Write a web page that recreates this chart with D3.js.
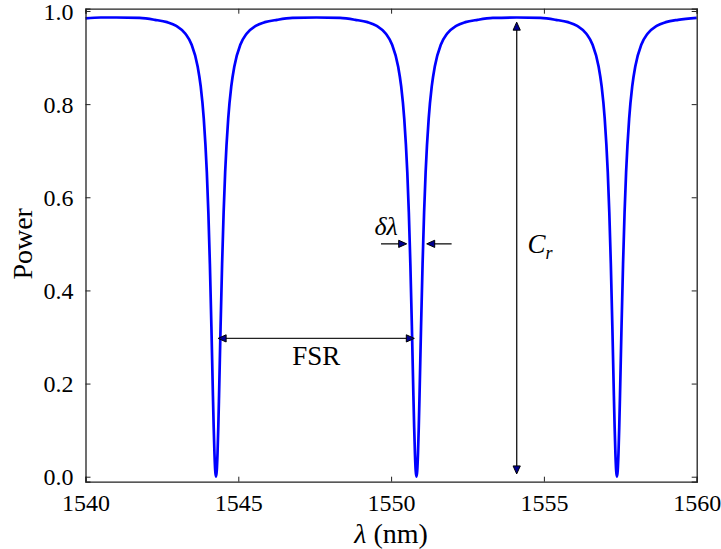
<!DOCTYPE html>
<html><head><meta charset="utf-8">
<script src="https://cdn.jsdelivr.net/npm/d3@7"></script>
<style>html,body{margin:0;padding:0;background:#fff;} svg text{font-family:"Liberation Serif","Times New Roman",Times,serif;}</style>
</head><body><svg id="c" width="721" height="549"></svg>
<script>
// Wavelength samples (nm)
const wavelength = [1540.00,1540.50,1541.00,1541.77,1542.27,1542.67,1542.97,1543.27,1543.47,1543.67,1543.77,1543.87,1543.97,1544.02,1544.07,1544.12,1544.17,1544.195,1544.22,1544.245,
1544.27,1544.295,1544.32,1544.345,1544.37,1544.42,1544.47,1544.52,1544.57,1544.67,1544.77,1544.87,1545.07,1545.27,1545.57,1545.87,1546.27,1546.77,
1547.55,1548.33,1548.83,1549.23,1549.53,1549.83,1550.03,1550.23,1550.33,1550.43,1550.53,1550.58,1550.63,1550.68,1550.73,1550.755,1550.78,1550.805,
1550.83,1550.855,1550.88,1550.905,1550.93,1550.98,1551.03,1551.08,1551.13,1551.23,1551.33,1551.43,1551.63,1551.83,1552.13,1552.43,1552.83,1553.33,
1554.11,1554.89,1555.39,1555.79,1556.09,1556.39,1556.59,1556.79,1556.89,1556.99,1557.09,1557.14,1557.19,1557.24,1557.29,1557.315,1557.34,1557.365,
1557.39,1557.415,1557.44,1557.465,1557.49,1557.54,1557.59,1557.64,1557.69,1557.79,1557.89,1557.99,1558.19,1558.39,1558.69,1558.99,1559.39,1560.00];
// Transmitted power
const power = [0.984,0.986,0.986,0.985,0.981,0.976,0.968,0.951,0.928,0.881,0.838,0.769,0.654,0.568,0.457,0.322,0.174,0.106,0.050,0.013,
0.000,0.013,0.050,0.106,0.174,0.322,0.457,0.568,0.654,0.769,0.838,0.881,0.928,0.951,0.968,0.976,0.981,0.985,
0.986,0.985,0.981,0.976,0.968,0.951,0.928,0.881,0.838,0.769,0.654,0.568,0.457,0.322,0.174,0.106,0.050,0.013,
0.000,0.013,0.050,0.106,0.174,0.322,0.457,0.568,0.654,0.769,0.838,0.881,0.928,0.951,0.968,0.976,0.981,0.985,
0.986,0.985,0.981,0.976,0.968,0.951,0.928,0.881,0.838,0.769,0.654,0.568,0.457,0.322,0.174,0.106,0.050,0.013,
0.000,0.013,0.050,0.106,0.174,0.322,0.457,0.568,0.654,0.769,0.838,0.881,0.928,0.951,0.968,0.976,0.981,0.985];
const xTicks = [1540,1545,1550,1555,1560];
const yTicks = [0.0,0.2,0.4,0.6,0.8,1.0];
const xDomain = [1540,1560];
const yDomain = [-0.0107,1.0049];
// Annotations (data coordinates)
const fsrArrow = {x1:1544.34, x2:1550.76, y:0.297, label:"FSR", lx:1547.55, ly:0.24};
const dlArrows = [{from:1549.67, to:1550.51, y:0.5},{from:1551.98, to:1551.165, y:0.5}];
const dlLabel = {x:1549.84, y:0.52};
const crArrow = {x:1554.11, y1:0.006, y2:0.976};
const crLabel = {x:1554.46, y:0.48};

const FONT = '"Liberation Serif", "Times New Roman", Times, serif';
const svg = d3.select("#c");
const m = {l:85.5, r:24.3, t:8.7, b:67.3};
const W = 721, H = 549;
const x = d3.scaleLinear().domain(xDomain).range([m.l, W-m.r]);
const y = d3.scaleLinear().domain(yDomain).range([H-m.b, m.t]);

const data = wavelength.map((d,i)=>[d,power[i]]);
const line = d3.line().x(d=>x(d[0])).y(d=>y(d[1])).curve(d3.curveMonotoneX);
svg.append("path").datum(data).attr("d",line).attr("fill","none").attr("stroke","#0000ff").attr("stroke-width",2.7).attr("stroke-linejoin","round");

// axes
const fs = 24, fsL = 28, fsA = 27;
const axB = svg.append("g").attr("transform",`translate(0,${H-m.b})`).call(d3.axisBottom(x).tickValues(xTicks).tickSize(-5).tickPadding(12).tickFormat(d3.format("d")));
const axT = svg.append("g").attr("transform",`translate(0,${m.t})`).call(d3.axisTop(x).tickValues(xTicks).tickSize(-5).tickFormat(""));
const axL = svg.append("g").attr("transform",`translate(${m.l},0)`).call(d3.axisLeft(y).tickValues(yTicks).tickSize(-5).tickPadding(12).tickFormat(d3.format(".1f")));
const axR = svg.append("g").attr("transform",`translate(${W-m.r},0)`).call(d3.axisRight(y).tickValues(yTicks).tickSize(-5).tickFormat(""));
[axB,axT,axL,axR].forEach(a=>{
  a.attr("font-family",FONT).attr("font-size",fs);
  a.select(".domain").attr("stroke","#222").attr("stroke-width",1.3);
  a.selectAll(".tick line").attr("stroke","#222").attr("stroke-width",1);
  a.selectAll("text").style("font-family",FONT).attr("font-size",fs).attr("fill","#000");
});
axB.selectAll(".tick text").attr("dy","0.72em");
axL.selectAll(".tick text").attr("dy","0.34em");

// axis labels
svg.append("text").attr("x",x(1550)).attr("y",543).attr("text-anchor","middle").attr("font-size",fsL).style("font-family",FONT)
  .html('<tspan font-style="italic">λ</tspan> (nm)');
svg.append("text").attr("transform",`translate(32,${y(0.5)}) rotate(-90)`).attr("text-anchor","middle").attr("font-size",fsL).style("font-family",FONT).text("Power");

// arrow helper
function head(tx,ty,dx,dy){
  const L=8, w=3.6;
  const bx=tx-dx*L, by=ty-dy*L;
  const px=-dy, py=dx;
  svg.append("path").attr("d",`M${tx},${ty}L${bx+px*w},${by+py*w}L${bx-px*w},${by-py*w}Z`)
    .attr("fill","#000090").attr("stroke","#000").attr("stroke-width",1).attr("stroke-linejoin","miter");
}
function arrow(x1,y1,x2,y2,both){
  const dx=x2-x1, dy=y2-y1, len=Math.hypot(dx,dy), ux=dx/len, uy=dy/len;
  svg.append("line").attr("x1",both?x1+ux*6:x1).attr("y1",both?y1+uy*6:y1).attr("x2",x2-ux*6).attr("y2",y2-uy*6)
    .attr("stroke","#222").attr("stroke-width",1.4);
  head(x2,y2,ux,uy);
  if(both) head(x1,y1,-ux,-uy);
}
arrow(x(fsrArrow.x1),y(fsrArrow.y),x(fsrArrow.x2),y(fsrArrow.y),true);
svg.append("text").attr("x",x(fsrArrow.lx)).attr("y",y(fsrArrow.ly)).attr("text-anchor","middle").attr("font-size",fsA).style("font-family",FONT).text(fsrArrow.label);
dlArrows.forEach(a=>arrow(x(a.from),y(a.y),x(a.to),y(a.y),false));
svg.append("text").attr("x",x(dlLabel.x)).attr("y",y(dlLabel.y)).attr("text-anchor","middle").attr("font-size",26).style("font-family",FONT).attr("font-style","italic").text("δλ");
arrow(x(crArrow.x),y(crArrow.y1),x(crArrow.x),y(crArrow.y2),true);
svg.append("text").attr("x",x(crLabel.x)).attr("y",y(crLabel.y)).attr("font-size",fsA).style("font-family",FONT).attr("font-style","italic")
  .html('C<tspan font-size="18" dy="6">r</tspan>');
</script></body></html>
